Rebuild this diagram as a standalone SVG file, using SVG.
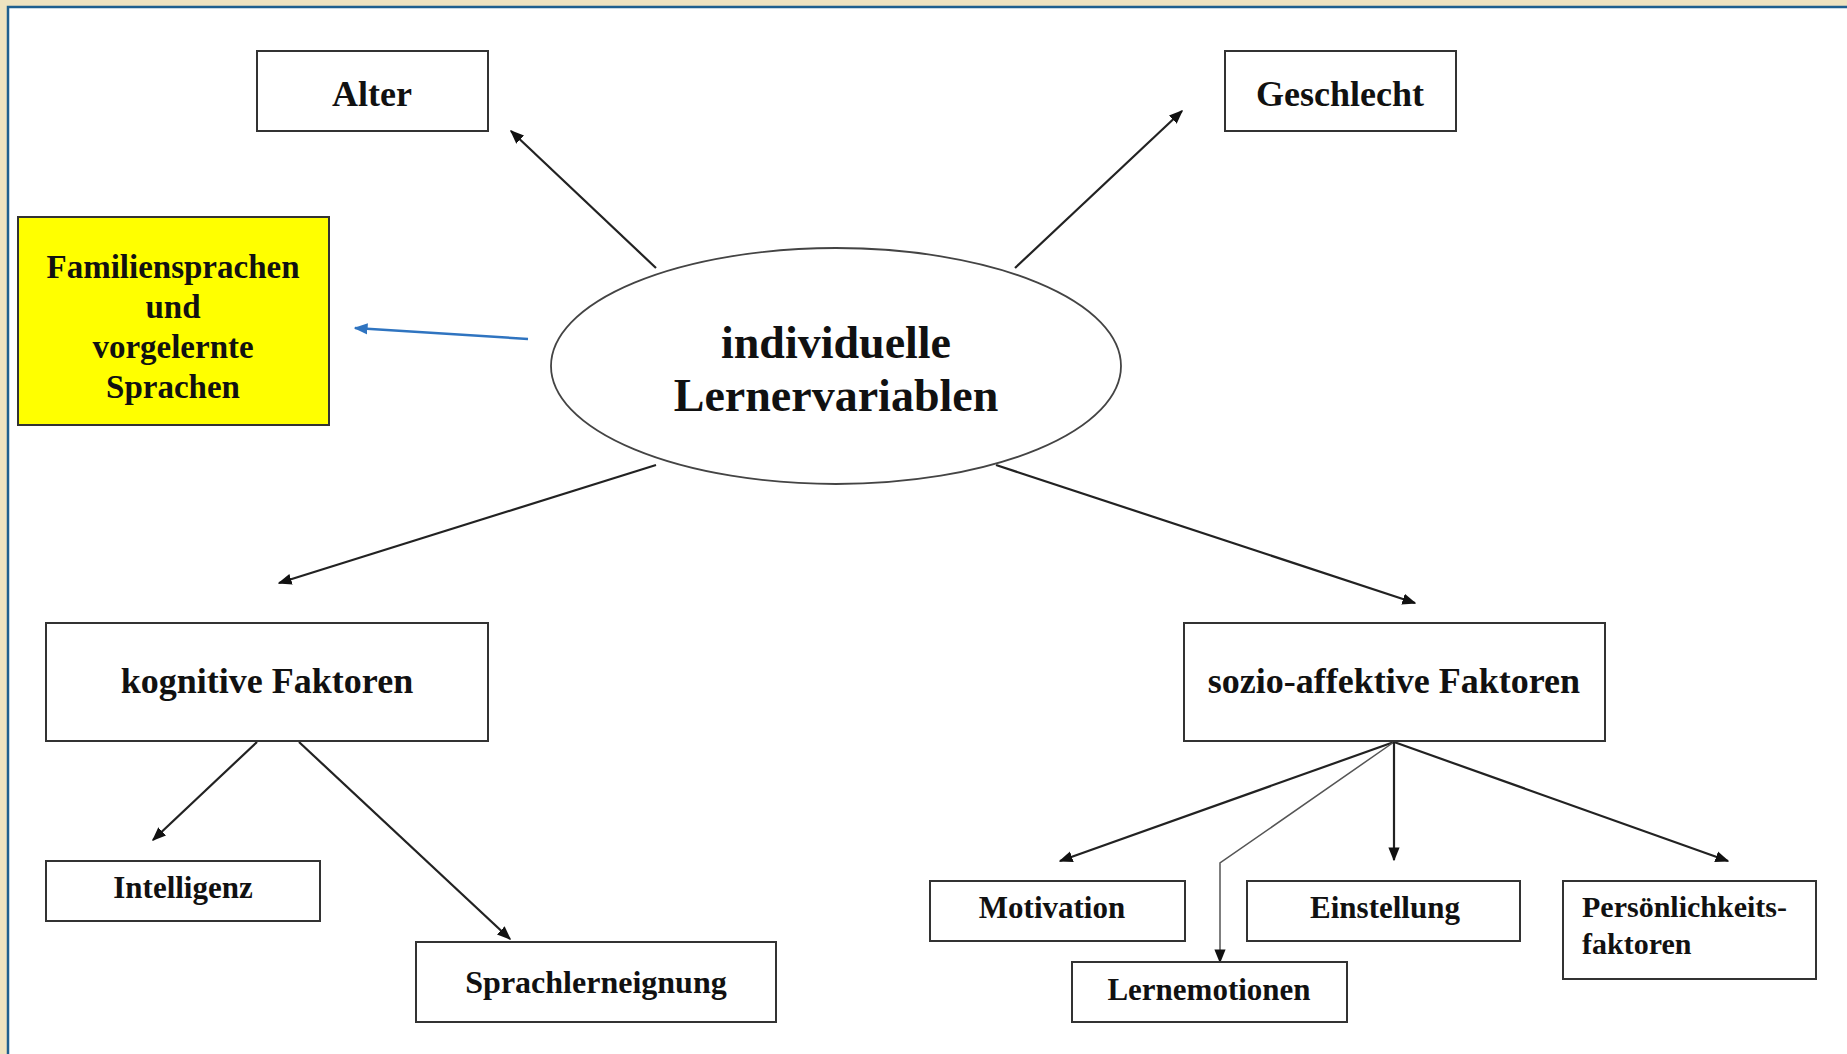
<svg xmlns="http://www.w3.org/2000/svg" width="1847" height="1054" viewBox="0 0 1847 1054">
<style>
.box{fill:#fff;stroke:#333;stroke-width:2}
.t{font-family:"Liberation Serif","Times New Roman",serif;font-weight:bold;fill:#111;text-anchor:middle}
.c{stroke:#222;stroke-width:2.2;fill:none}
</style>
<defs>
<marker id="ahs" viewBox="0 0 10 10" refX="9" refY="5" markerWidth="14" markerHeight="14" markerUnits="userSpaceOnUse" orient="auto">
<path d="M0,1 L10,5 L0,9 z" fill="#111"/>
</marker>
<marker id="ahb" viewBox="0 0 10 10" refX="9" refY="5" markerWidth="14" markerHeight="14" markerUnits="userSpaceOnUse" orient="auto">
<path d="M0,1 L10,5 L0,9 z" fill="#2f74c0"/>
</marker>
</defs>
<rect x="0" y="0" width="1847" height="1054" fill="#efe3c0"/>
<rect x="8" y="7" width="1850" height="1060" fill="#fff" stroke="#1f5f8f" stroke-width="2.5"/>

<g id="connectors">
<line class="c" x1="656" y1="268" x2="511" y2="131" marker-end="url(#ahs)"/>
<line class="c" x1="1015" y1="268" x2="1182" y2="111" marker-end="url(#ahs)"/>
<line x1="528" y1="339" x2="355" y2="328" stroke="#2f74c0" stroke-width="2.5" marker-end="url(#ahb)"/>
<line class="c" x1="656" y1="465" x2="279" y2="583" marker-end="url(#ahs)"/>
<line class="c" x1="996" y1="465" x2="1415" y2="603" marker-end="url(#ahs)"/>
<line class="c" x1="257" y1="742" x2="153" y2="840" marker-end="url(#ahs)"/>
<line class="c" x1="299" y1="742" x2="510" y2="939" marker-end="url(#ahs)"/>
<line class="c" x1="1394" y1="742" x2="1060" y2="861" marker-end="url(#ahs)"/>
<polyline points="1394,742 1220,863 1220,962" stroke="#555" stroke-width="1.5" fill="none" marker-end="url(#ahs)"/>
<line class="c" x1="1394" y1="742" x2="1394" y2="860" marker-end="url(#ahs)"/>
<line class="c" x1="1394" y1="742" x2="1728" y2="861" marker-end="url(#ahs)"/>
</g>

<g id="center">
<ellipse cx="836" cy="366" rx="285" ry="118" fill="#fff" stroke="#444" stroke-width="1.8"/>
<text class="t" x="836" y="358" font-size="46">individuelle</text>
<text class="t" x="836" y="411" font-size="46">Lernervariablen</text>
</g>
<g id="alter">
<rect class="box" x="257" y="51" width="231" height="80"/>
<text class="t" x="372" y="106" font-size="36">Alter</text>
</g>
<g id="geschlecht">
<rect class="box" x="1225" y="51" width="231" height="80"/>
<text class="t" x="1340" y="106" font-size="36">Geschlecht</text>
</g>
<g id="familiensprachen">
<rect x="18" y="217" width="311" height="208" fill="#ffff00" stroke="#333" stroke-width="2"/>
<text class="t" x="173" y="278" font-size="33">Familiensprachen</text>
<text class="t" x="173" y="318" font-size="33">und</text>
<text class="t" x="173" y="358" font-size="33">vorgelernte</text>
<text class="t" x="173" y="398" font-size="33">Sprachen</text>
</g>
<g id="kognitive">
<rect class="box" x="46" y="623" width="442" height="118"/>
<text class="t" x="267" y="693" font-size="36">kognitive Faktoren</text>
</g>
<g id="intelligenz">
<rect class="box" x="46" y="861" width="274" height="60"/>
<text class="t" x="183" y="898" font-size="31">Intelligenz</text>
</g>
<g id="sprachlerneignung">
<rect class="box" x="416" y="942" width="360" height="80"/>
<text class="t" x="596" y="993" font-size="32">Sprachlerneignung</text>
</g>
<g id="sozio">
<rect class="box" x="1184" y="623" width="421" height="118"/>
<text class="t" x="1394" y="693" font-size="36">sozio-affektive Faktoren</text>
</g>
<g id="motivation">
<rect class="box" x="930" y="881" width="255" height="60"/>
<text class="t" x="1052" y="918" font-size="31">Motivation</text>
</g>
<g id="lernemotionen">
<rect class="box" x="1072" y="962" width="275" height="60"/>
<text class="t" x="1209" y="1000" font-size="31">Lernemotionen</text>
</g>
<g id="einstellung">
<rect class="box" x="1247" y="881" width="273" height="60"/>
<text class="t" x="1385" y="918" font-size="31">Einstellung</text>
</g>
<g id="persoenlichkeit">
<rect class="box" x="1563" y="881" width="253" height="98"/>
<text class="t" x="1582" y="917" font-size="30" style="text-anchor:start">Persönlichkeits-</text>
<text class="t" x="1582" y="954" font-size="30" style="text-anchor:start">faktoren</text>
</g>
</svg>
